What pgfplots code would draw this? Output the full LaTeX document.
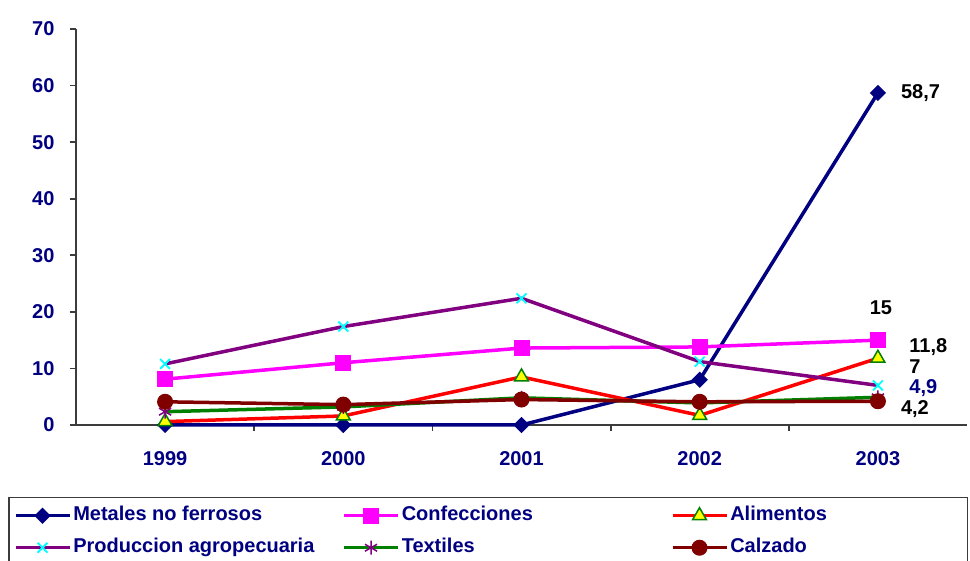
\documentclass[border=0pt]{standalone}
\usepackage{pgfplots}
\pgfplotsset{compat=1.18}
\usepackage{fontspec}
\setmainfont{Liberation Sans}
\definecolor{cnavy}{RGB}{0,0,128}
\definecolor{cmag}{RGB}{255,0,255}
\definecolor{cred}{RGB}{255,0,0}
\definecolor{cpurple}{RGB}{128,0,128}
\definecolor{cgreen}{RGB}{0,128,0}
\definecolor{cdred}{RGB}{128,0,0}
\definecolor{ccyan}{RGB}{0,255,255}
\definecolor{cyellow}{RGB}{255,255,0}
\definecolor{axgray}{RGB}{60,60,60}
\begin{document}
\begin{tikzpicture}[x=1pt,y=1pt]
\useasboundingbox (-76,-136) rectangle (894,425);
\begin{axis}[at={(0,0)}, anchor=south west, scale only axis,
  width=891pt, height=396pt,
  xmin=-0.5, xmax=4.5, ymin=0, ymax=70,
  axis x line=bottom, axis y line=left,
  axis line style={-, draw=axgray, line width=1.8pt},
  xtick={0,...,4}, xticklabels={1999,2000,2001,2002,2003},
  ytick={0,10,...,70},
  /pgf/number format/assume math mode=true,
  minor xtick={0.5,1.5,2.5,3.5},
  tick align=outside, major tick length=6pt, minor tick length=6pt,
  major x tick style={draw=none},
  minor x tick style={draw=axgray, line width=1.8pt},
  ytick style={draw=axgray, line width=1.8pt},
  tick label style={font=\fontsize{20}{24}\selectfont\bfseries, text=cnavy},
  yticklabel style={xshift=-12pt},
  xticklabel style={yshift=-17pt},
  clip=false,
  legend columns=3,
  legend image code/.code={\draw[mark repeat=2,mark phase=2,#1] plot coordinates {(0pt,0pt) (27pt,0pt) (54pt,0pt)};},
  legend style={at={(axis description cs:-0.0763,-0.1818)}, anchor=north west,
    draw=axgray, line width=1.5pt, inner xsep=5pt, inner ysep=9pt,
    font=\fontsize{20}{24}\selectfont\bfseries, text=cnavy,
    nodes={inner sep=0pt, text height=14pt, text depth=4pt, anchor=west},
    row sep=14pt,
    /tikz/every odd column/.append style={column sep=2pt},
    /tikz/every even column/.append style={column sep=7pt}},
]
\addplot[cnavy, line width=3.5pt, mark=square*, mark size=5.2pt, mark options={rotate=45, fill=cnavy, draw=cnavy, line width=1pt}]
  coordinates {(0,0) (1,0) (2,0) (3,8.0) (4,58.7)};
\addlegendentry{\makebox[262pt][l]{Metales no ferrosos}}
\addplot[cmag, line width=3.5pt, mark=square*, mark size=7.5pt, mark options={fill=cmag, draw=cmag, line width=1pt}]
  coordinates {(0,8.1) (1,11.0) (2,13.6) (3,13.8) (4,15)};
\addlegendentry{\makebox[262pt][l]{Confecciones}}
\addplot[cred, line width=3.5pt, mark=triangle*, mark size=8pt, mark options={fill=cyellow, draw=cgreen, line width=1.5pt}]
  coordinates {(0,0.6) (1,1.6) (2,8.5) (3,1.7) (4,11.8)};
\addlegendentry{\makebox[232pt][l]{Alimentos}}
\addplot[cpurple, line width=3.5pt, mark=x, mark size=7pt, mark options={draw=ccyan, line width=1.8pt}]
  coordinates {(0,10.8) (1,17.4) (2,22.4) (3,11.2) (4,7)};
\addlegendentry{\makebox[262pt][l]{Produccion agropecuaria}}
\addplot[cgreen, line width=3.5pt, mark=asterisk, mark size=7pt, mark options={draw=cpurple, line width=1.5pt}]
  coordinates {(0,2.35) (1,3.2) (2,4.8) (3,3.9) (4,4.9)};
\addlegendentry{\makebox[262pt][l]{Textiles}}
\addplot[cdred, line width=3.5pt, mark=*, mark size=7.5pt, mark options={fill=cdred, draw=cdred, line width=1pt}]
  coordinates {(0,4.1) (1,3.6) (2,4.5) (3,4.1) (4,4.2)};
\addlegendentry{\makebox[232pt][l]{Calzado}}
\begin{scope}[font=\fontsize{20}{24}\selectfont\bfseries]
\node[anchor=west, text=black] at (axis cs:4.11,58.7) {58,7};
\node[anchor=center, text=black] at (axis cs:4.017,20.68) {15};
\node[anchor=west, text=black] at (axis cs:4.157,13.79) {11,8};
\node[anchor=west, text=black] at (axis cs:4.157,10.25) {7};
\node[anchor=west, text=cnavy] at (axis cs:4.157,6.54) {4,9};
\node[anchor=west, text=black] at (axis cs:4.11,2.83) {4,2};
\end{scope}
\end{axis}
\end{tikzpicture}
\end{document}
